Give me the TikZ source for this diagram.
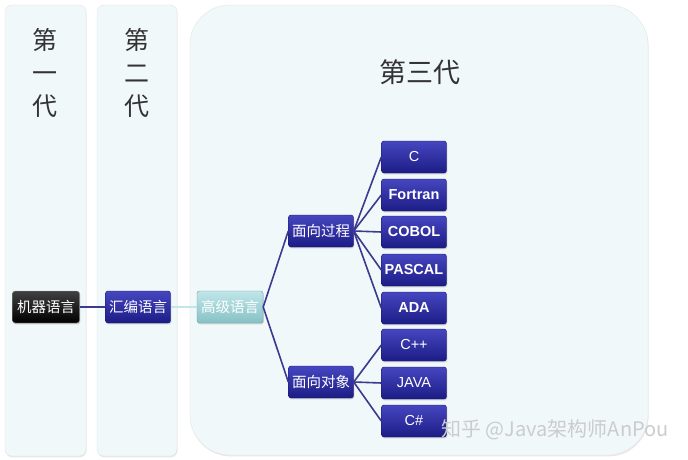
\documentclass[tikz,border=0pt]{standalone}
\usepackage{fontspec}
\setmainfont{Liberation Sans}
\newfontfamily\cjk{Noto Sans CJK SC}
\usepackage{tikz}
\usetikzlibrary{positioning, shadows}
\usepackage{xcolor}

\definecolor{panelfill}{HTML}{F1F8FA}
\definecolor{boxtop}{HTML}{4646C0}
\definecolor{boxbot}{HTML}{1C1C86}
\definecolor{boxedge}{HTML}{15156A}
\definecolor{linkcol}{HTML}{3A3A8E}
\definecolor{tealtop}{HTML}{C0E6E8}
\definecolor{tealbot}{HTML}{86C2C6}
\definecolor{titlecol}{HTML}{333333}

\tikzset{
    panel/.style={fill=panelfill, draw=gray!20, drop shadow={shadow xshift=0.6pt, shadow yshift=-1.4pt, fill=gray!35}},
    gen/.style={font=\cjk\fontsize{25}{33}\selectfont, text=titlecol, align=center},
    langbox/.style={rounded corners=2.5pt, minimum width=65pt, minimum height=32pt, inner sep=1pt,
        draw=boxedge, top color=boxtop, bottom color=boxbot, text=white,
        drop shadow={shadow xshift=0.8pt, shadow yshift=-1.4pt, fill=gray!60}},
    cnlabel/.style={font=\cjk\fontsize{14.5}{15}\selectfont},
    leaf/.style={langbox, font=\fontsize{14.5}{15}\selectfont},
    leafbold/.style={leaf, font=\bfseries\fontsize{14.5}{15}\selectfont},
    link/.style={draw=linkcol, line width=1.6pt},
}

\begin{document}
\begin{tikzpicture}[x=1pt, y=-1pt]
        \useasboundingbox[fill=white] (0,0) rectangle (688,460);

        % Generation panels
        \draw[panel, rounded corners=7pt] (5,5) rectangle (86,456);
        \draw[panel, rounded corners=7pt] (97,5) rectangle (177,456);
        \draw[panel, rounded corners=40pt] (190,5) rectangle (648,455);

        % Panel titles
        \node[gen] (first) at (45,73) {第\\一\\代};
        \node[gen] (second) at (137,73) {第\\二\\代};
        \node[gen, font=\cjk\fontsize{27}{27}\selectfont] (third) at (420,72) {第三代};

        % Language chain
        \node[langbox, cnlabel, minimum width=67pt, draw=gray!70, top color=black!75, bottom color=black] (machine) at (46,307) {机器语言};
        \node[langbox, cnlabel] (assembly) at (138,307) {汇编语言};
        \node[langbox, cnlabel, minimum width=66pt, draw=tealbot!80!black, top color=tealtop, bottom color=tealbot] (high) at (230,307) {高级语言};

        % Paradigms
        \node[langbox, cnlabel] (procedural) at (321,231) {面向过程};
        \node[langbox, cnlabel] (objects) at (321,382) {面向对象};

        % Procedural languages
        \node[leaf] (c) at (414,157) {C};
        \node[leafbold] (fortran) at (414,195) {Fortran};
        \node[leafbold] (cobol) at (414,232) {COBOL};
        \node[leafbold] (pascal) at (414,270) {PASCAL};
        \node[leafbold] (ada) at (414,308) {ADA};

        % Object oriented languages
        \node[leaf] (cpp) at (414,345) {C++};
        \node[leaf] (java) at (414,383) {JAVA};
        \node[leaf] (csharp) at (414,421) {C\#};

        % Connectors
        \draw[link] (machine) -- (assembly);
        \draw[draw=tealtop, line width=1.6pt] (assembly) -- (high);
        \draw[link] (high.east) -- (procedural.west);
        \draw[link] (high.east) -- (objects.west);
        \draw[link] (procedural.east) -- (c.west);
        \draw[link] (procedural.east) -- (fortran.west);
        \draw[link] (procedural.east) -- (cobol.west);
        \draw[link] (procedural.east) -- (pascal.west);
        \draw[link] (procedural.east) -- (ada.west);
        \draw[link] (objects.east) -- (cpp.west);
        \draw[link] (objects.east) -- (java.west);
        \draw[link] (objects.east) -- (csharp.west);

        % Watermark
        \node[font=\cjk\fontsize{20}{20}\selectfont, text=gray!40] (mark) at (555,430) {知乎 @Java架构师AnPou};
    \end{tikzpicture}
\end{document}
